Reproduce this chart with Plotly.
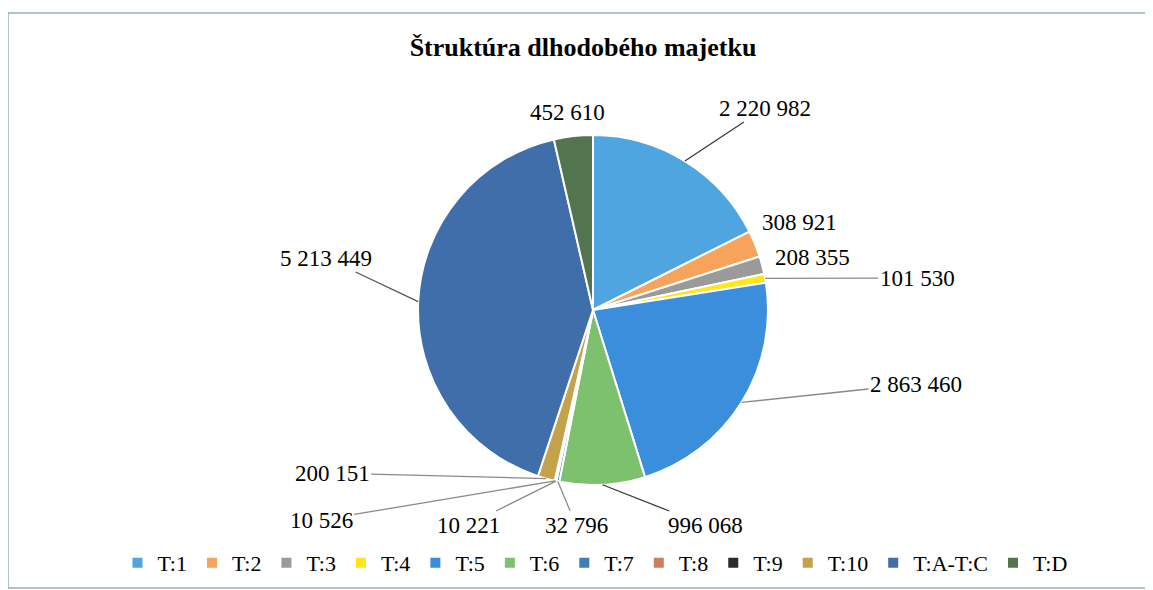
import math
import plotly.graph_objects as go

# data
categories = ["T:1", "T:2", "T:3", "T:4", "T:5", "T:6", "T:7", "T:8", "T:9", "T:10", "T:A-T:C", "T:D"]
values = [2220982, 308921, 208355, 101530, 2863460, 996068, 32796, 10221, 10526, 200151, 5213449, 452610]
colors = ["#4ea5e0", "#f7a35c", "#9a9a9a", "#ffe61a", "#3b8edc", "#7dc16e",
          "#3e7fb8", "#c98058", "#2b2b2b", "#c4a24a", "#3f6eab", "#52744f"]

W, H = 1153, 590
OFF = 8  # the page body margin shifts the plot by this many pixels
CX, CY, R = 593 - OFF, 310 - OFF, 175  # pie centre / radius in pixels
SERIF = "Liberation Serif, Times New Roman, Times, serif"

# where each value label sits (pixel centre) and whether it gets a leader line
label_pos = [(765, 108, True), (799, 222, False), (813, 257, False), (917, 278, True),
             (916, 384, True), (705, 525, True), (576, 525, True), (468, 525, True),
             (321, 520, True), (332, 473, True), (326, 258, True), (567, 113, False)]
line_colors = ["#3a3a3a", None, None, "#8a8a8a", "#8a8a8a", "#3a3a3a",
               "#8a8a8a", "#8a8a8a", "#8a8a8a", "#8a8a8a", "#555555", None]

fig = go.Figure(go.Pie(
    labels=categories,
    values=values,
    marker=dict(colors=colors, line=dict(color="white", width=2)),
    sort=False,
    direction="clockwise",
    rotation=0,
    textinfo="none",
    hoverinfo="label+value",
    domain=dict(x=[(CX - R) / W, (CX + R) / W], y=[1 - (CY + R) / H, 1 - (CY - R) / H]),
))

total = sum(values)
cum = 0
annotations = []
for v, (tx, ty, line), lc in zip(values, label_pos, line_colors):
    tx, ty = tx - OFF, ty - OFF
    mid = 2 * math.pi * (cum + v / 2) / total
    cum += v
    text = f"{v:,}".replace(",", " ")
    if line:
        px = CX + R * math.sin(mid)
        py = CY - R * math.cos(mid)
        annotations.append(dict(
            x=px / W, y=1 - py / H, xref="paper", yref="paper",
            ax=tx - px, ay=ty - py, axref="pixel", ayref="pixel",
            text=text, showarrow=True, arrowhead=0, arrowwidth=1.3, arrowcolor=lc,
            font=dict(family=SERIF, size=23, color="black"),
        ))
    else:
        annotations.append(dict(
            x=tx / W, y=1 - ty / H, xref="paper", yref="paper",
            xanchor="center", yanchor="middle",
            text=text, showarrow=False, font=dict(family=SERIF, size=23, color="black"),
        ))

fig.update_layout(
    width=W, height=H,
    margin=dict(l=0, r=0, t=0, b=0),
    paper_bgcolor="white",
    font=dict(family=SERIF, color="black"),
    title=dict(text="<b>Štruktúra dlhodobého majetku</b>", x=(583 - OFF) / W, xanchor="center",
               y=1 - (47 - OFF) / H, yanchor="middle",
               font=dict(family=SERIF, size=26, color="black")),
    legend=dict(orientation="h", x=(595 - OFF) / W, xanchor="center", y=1 - (563 - OFF) / H,
                yanchor="middle", font=dict(family=SERIF, size=22), itemwidth=30, tracegroupgap=0),
    annotations=annotations,
    shapes=[dict(type="rect", xref="paper", yref="paper",
                 x0=(7 - OFF + 1) / W, x1=(1151 - OFF) / W, y0=1 - (588 - OFF) / H, y1=1 - (13 - OFF) / H,
                 line=dict(color="#8fb2ae", width=1.5))],
)

fig.write_html("out.html")
